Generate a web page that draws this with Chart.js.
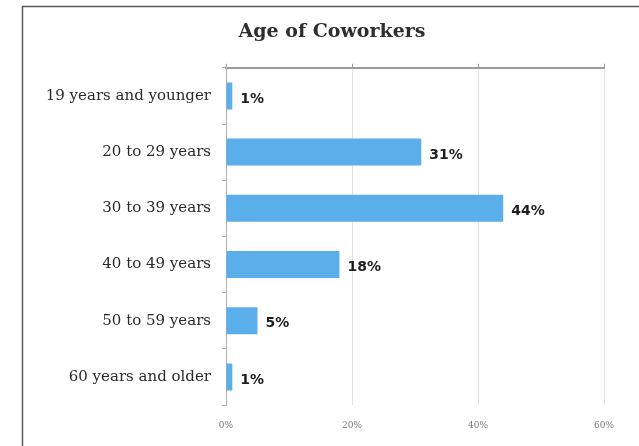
<!DOCTYPE html>
<html>
<head>
<meta charset="utf-8">
<script src="https://cdn.jsdelivr.net/npm/chart.js@4/dist/chart.umd.min.js"></script>
<style>
  html, body { margin: 0; padding: 0; background: #fff; }
  #wrap { position: relative; width: 639px; height: 446px; }
</style>
</head>
<body>
<div id="wrap"><canvas id="c" width="639" height="446"></canvas></div>
<script>
const titleText = "Age of Coworkers";
const categories = ["19 years and younger", "20 to 29 years", "30 to 39 years", "40 to 49 years", "50 to 59 years", "60 years and older"];
const shares = [1, 31, 44, 18, 5, 1];
const xTickValues = [0, 20, 40, 60];

const framePlugin = {
  id: 'frame',
  afterLayout(chart) {
    // centre the title over the framed panel rather than the padded box
    if (chart.titleBlock) chart.titleBlock.left = 60;
  },
  beforeDraw(chart) {
    const ctx = chart.ctx;
    ctx.save();
    ctx.strokeStyle = '#5a5a5a';
    ctx.lineWidth = 1.5;
    ctx.beginPath();
    ctx.moveTo(22.5, chart.height);
    ctx.lineTo(22.5, 6.5);
    ctx.lineTo(chart.width, 6.5);
    ctx.stroke();
    ctx.restore();
  }
};

const labelPlugin = {
  id: 'valueLabels',
  afterDatasetsDraw(chart) {
    const ctx = chart.ctx;
    const meta = chart.getDatasetMeta(0);
    ctx.save();
    ctx.font = 'bold 14px "DejaVu Sans"';
    ctx.fillStyle = '#1e1e1e';
    ctx.textAlign = 'left';
    ctx.textBaseline = 'middle';
    meta.data.forEach((bar, i) => {
      ctx.fillText(shares[i] + '%', bar.x + 8, bar.y + 3);
    });
    ctx.restore();
  }
};

new Chart(document.getElementById('c'), {
  type: 'bar',
  data: {
    labels: categories,
    datasets: [{
      data: shares,
      backgroundColor: '#5aaee9',
      borderWidth: 0,
      categoryPercentage: 1,
      barPercentage: 0.48,
      xAxisID: 'x'
    }]
  },
  options: {
    indexAxis: 'y',
    responsive: false,
    animation: false,
    layout: { padding: { left: 22, top: 0, right: 35, bottom: 0 } },
    plugins: {
      legend: { display: false },
      tooltip: { enabled: false },
      title: {
        display: true,
        text: titleText,
        color: '#2e2e2e',
        font: { family: '"DejaVu Serif"', size: 19, weight: 'bold' },
        padding: { top: 21, bottom: 18 }
      }
    },
    scales: {
      x: {
        position: 'bottom',
        min: 0, max: 60,
        afterBuildTicks(axis) { axis.ticks = xTickValues.map(v => ({ value: v })); },
        afterFit(axis) { axis.height = 41; },
        grid: { color: '#e2e2e2', drawTicks: false, lineWidth: 1 },
        border: { display: false },
        ticks: {
          padding: 15,
          color: '#777',
          font: { family: '"DejaVu Serif"', size: 9 },
          callback: v => v + '%'
        }
      },
      x2: {
        position: 'top',
        min: 0, max: 60,
        afterBuildTicks(axis) { axis.ticks = xTickValues.map(v => ({ value: v })); },
        afterFit(axis) { axis.height = 6; },
        grid: { drawOnChartArea: false, tickLength: 4, color: '#9a9a9a' },
        border: { color: '#9a9a9a', width: 2 },
        ticks: { display: false }
      },
      y: {
        afterFit(axis) { axis.width = 204; },
        grid: { drawOnChartArea: false, tickLength: 4, color: '#b0b0b0' },
        border: { color: '#b0b0b0', width: 1 },
        ticks: {
          padding: 11,
          color: '#2a2a2a',
          font: { family: '"DejaVu Serif"', size: 15 }
        }
      }
    }
  },
  plugins: [framePlugin, labelPlugin]
});
</script>
</body>
</html>
